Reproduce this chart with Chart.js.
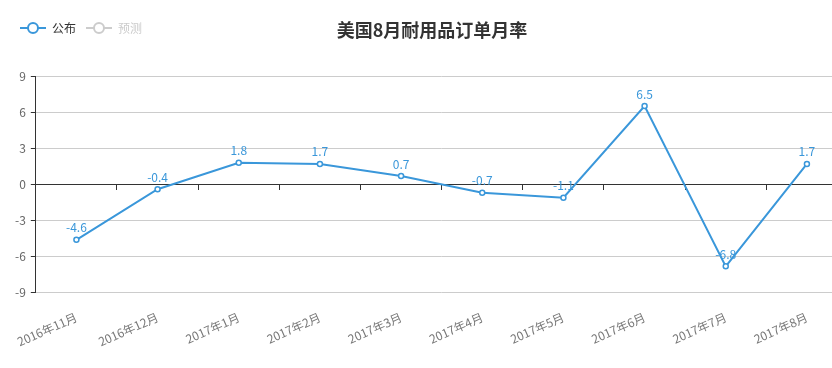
<!DOCTYPE html>
<html>
<head>
<meta charset="utf-8">
<script src="https://cdn.jsdelivr.net/npm/chart.js@4.4.0/dist/chart.umd.min.js"></script>
<style>
      html, body { margin: 0; padding: 0; overflow: hidden; background: #fff; }
      #wrap { position: relative; width: 853px; height: 368px; }
      #title {
            position: absolute; top: 16px; left: 432px; transform: translateX(-50%);
            font: bold 18px "Noto Sans CJK SC", sans-serif; color: #333; white-space: nowrap;
      }
</style>
</head>
<body>
<div id="wrap">
      <canvas id="orderChart" width="853" height="368"></canvas>
      <div id="title">美国8月耐用品订单月率</div>
</div>
<script>
const months = ["2016年11月", "2016年12月", "2017年1月", "2017年2月", "2017年3月",
      "2017年4月", "2017年5月", "2017年6月", "2017年7月", "2017年8月"];
const published = [-4.6, -0.4, 1.8, 1.7, 0.7, -0.7, -1.1, 6.5, -6.8, 1.7];
const forecast = [null, null, null, null, null, null, null, null, null, null];
const seriesNames = ["公布", "预测"];

const BLUE = "#3a97da";
const FONT = "'Noto Sans CJK SC', sans-serif";

function makeIcon(color) {
      const c = document.createElement("canvas");
      c.width = 26;
      c.height = 14;
      const g = c.getContext("2d");
      g.strokeStyle = color;
      g.lineWidth = 2;
      g.beginPath();
      g.moveTo(0, 7);
      g.lineTo(26, 7);
      g.stroke();
      g.beginPath();
      g.arc(13, 7, 5, 0, Math.PI * 2);
      g.fillStyle = "#fff";
      g.fill();
      g.stroke();
      return c;
}

// labels above each point, under the line like the original
const pointLabels = {
      id: "pointLabels",
      beforeDatasetsDraw(chart) {
            const ctx = chart.ctx;
            const meta = chart.getDatasetMeta(0);
            ctx.save();
            ctx.font = "12px " + FONT;
            ctx.fillStyle = BLUE;
            ctx.textAlign = "center";
            ctx.textBaseline = "bottom";
            meta.data.forEach((pt, i) => {
                  ctx.fillText(String(published[i]), pt.x, pt.y - 6);
            });
            ctx.restore();
      },
};

// extra room under the legend
const legendGap = {
      id: "legendGap",
      beforeInit(chart) {
            const fit = chart.legend.fit;
            chart.legend.fit = function () {
                  fit.bind(chart.legend)();
                  this.height += 32;
            };
      },
};

new Chart(document.getElementById("orderChart"), {
      type: "line",
      data: {
            labels: months,
            datasets: [
                  {
                        label: seriesNames[0],
                        data: published,
                        borderColor: BLUE,
                        borderWidth: 2,
                        backgroundColor: "#fff",
                        pointBackgroundColor: "#fff",
                        pointBorderColor: BLUE,
                        pointBorderWidth: 1.5,
                        pointRadius: 2.5,
                        tension: 0,
                  },
                  {
                        label: seriesNames[1],
                        data: forecast,
                        borderColor: "#ccc",
                        pointRadius: 0,
                  },
            ],
      },
      options: {
            responsive: false,
            animation: false,
            layout: { padding: { left: 10, right: 2, top: 12, bottom: 10 } },
            plugins: {
                  tooltip: { enabled: false },
                  legend: {
                        position: "top",
                        align: "start",
                        labels: {
                              usePointStyle: true,
                              pointStyleWidth: 26,
                              padding: 10,
                              font: { family: FONT, size: 12 },
                              generateLabels: (chart) =>
                                    chart.data.datasets.map((ds, i) => ({
                                          text: ds.label,
                                          fontColor: i === 0 ? "#333" : "#ccc",
                                          pointStyle: makeIcon(i === 0 ? BLUE : "#ccc"),
                                          hidden: false,
                                          datasetIndex: i,
                                          lineWidth: 0,
                                          strokeStyle: "transparent",
                                          fillStyle: "transparent",
                                    })),
                        },
                  },
            },
            scales: {
                  x: {
                        type: "category",
                        offset: true,
                        grid: { display: false },
                        border: { display: false },
                        ticks: {
                              color: "#777",
                              font: { family: FONT, size: 12 },
                              minRotation: 24,
                              maxRotation: 24,
                              autoSkip: false,
                              padding: 9,
                        },
                  },
                  x2: {
                        type: "category",
                        position: { y: 0 },
                        offset: true,
                        grid: {
                              offset: true,
                              drawOnChartArea: false,
                              drawTicks: true,
                              tickLength: 5,
                              color: "#333",
                        },
                        border: { color: "#333", width: 1 },
                        ticks: { display: false },
                  },
                  y: {
                        min: -9,
                        max: 9,
                        grid: {
                              color: (c) => (c.tick && c.tick.value === 0 ? "#333" : "#ccc"),
                              tickColor: "#333",
                              tickLength: 5,
                        },
                        border: { color: "#333", width: 1 },
                        ticks: {
                              stepSize: 3,
                              color: "#666",
                              padding: 5,
                              font: { family: FONT, size: 12 },
                        },
                  },
            },
      },
      plugins: [pointLabels, legendGap],
});
</script>
</body>
</html>
